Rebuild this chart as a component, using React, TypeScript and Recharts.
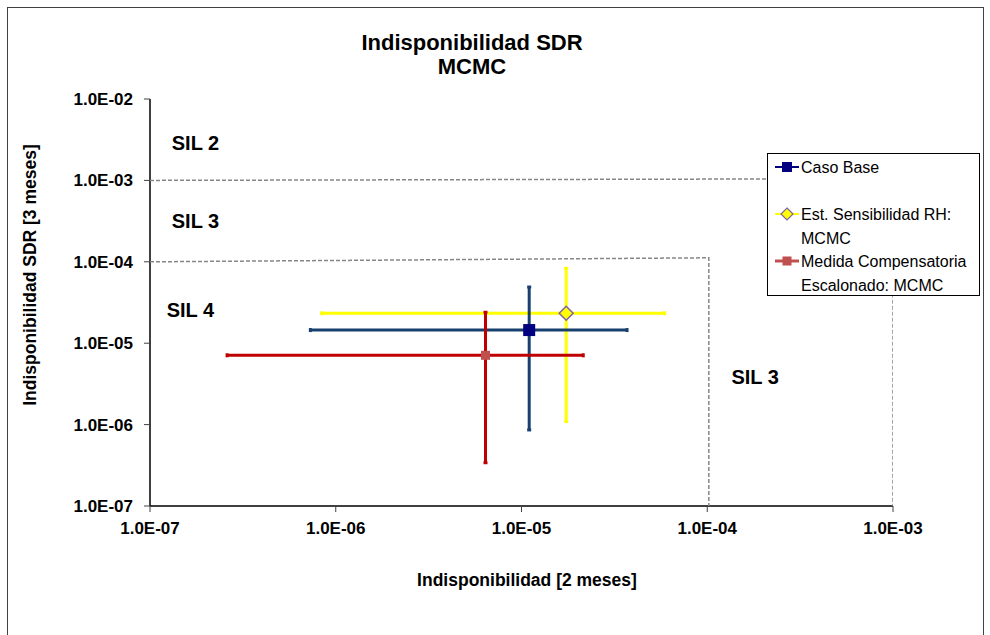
import React from 'react';
import { ScatterChart, Scatter, XAxis, YAxis, ErrorBar } from 'recharts';

// ---- data ----
const seriesNames = ['Caso Base', 'Est. Sensibilidad RH: MCMC', 'Medida Compensatoria Escalonado: MCMC'];
const centerX = [1.1e-5, 1.74e-5, 6.4e-6];
const centerY = [1.45e-5, 2.33e-5, 7.1e-6];
const xLow = [7.3e-7, 8.4e-7, 2.6e-7];
const xHigh = [3.7e-5, 5.9e-5, 2.15e-5];
const yLow = [8.6e-7, 1.09e-6, 3.4e-7];
const yHigh = [4.9e-5, 8.3e-5, 2.4e-5];

const xTicks = [1e-7, 1e-6, 1e-5, 1e-4, 1e-3];
const xTickLabels = ['1.0E-07', '1.0E-06', '1.0E-05', '1.0E-04', '1.0E-03'];
const yTicks = [1e-7, 1e-6, 1e-5, 1e-4, 1e-3, 1e-2];
const yTickLabels = ['1.0E-07', '1.0E-06', '1.0E-05', '1.0E-04', '1.0E-03', '1.0E-02'];

// SIL boundary lines
const sil23X = [1e-7, 1e-3, 1e-3];
const sil23Y = [1e-3, 1.05e-3, 1e-7];
const sil34X = [1e-7, 1.02e-4, 1.02e-4];
const sil34Y = [1e-4, 1.12e-4, 1e-7];

// SIL region labels
const silLabelText = ['SIL 2', 'SIL 3', 'SIL 4', 'SIL 3'];
const silLabelX = [1.31e-7, 1.31e-7, 1.23e-7, 1.35e-4];
const silLabelY = [2.88e-3, 3.17e-4, 2.56e-5, 3.87e-6];

const FONT = '"Liberation Sans", Arial, sans-serif';

const pointData = (i: number) => [
  {
    x: centerX[i],
    y: centerY[i],
    ex: [centerX[i] - xLow[i], xHigh[i] - centerX[i]],
    ey: [centerY[i] - yLow[i], yHigh[i] - centerY[i]],
  },
];

const lineData = (xs: number[], ys: number[]) => xs.map((x, i) => ({ x, y: ys[i] }));
const silData = silLabelText.map((t, i) => ({ x: silLabelX[i], y: silLabelY[i], t }));

const fmt = (labels: string[], ticks: number[]) => (v: number) => {
  const i = ticks.findIndex((t) => Math.abs(Math.log10(t) - Math.log10(v)) < 1e-6);
  return i >= 0 ? labels[i] : '';
};

const SquareShape = (size: number, fill: string) => (p: any) => (
  <rect x={p.cx - size / 2} y={p.cy - size / 2} width={size} height={size} fill={fill} />
);
const DiamondShape = (p: any) => {
  const r = 7;
  return (
    <polygon
      points={`${p.cx},${p.cy - r} ${p.cx + r},${p.cy} ${p.cx},${p.cy + r} ${p.cx - r},${p.cy}`}
      fill="#FFFF00"
      stroke="#8064A2"
      strokeWidth={1.5}
    />
  );
};
const NoShape = () => <g />;
const SilLabelShape = (p: any) => (
  <text
    x={p.cx}
    y={p.cy}
    dominantBaseline="central"
    fontFamily={FONT}
    fontWeight="bold"
    fontSize={20}
    fill="#000"
  >
    {p.payload.t}
  </text>
);

const LegendBox = () => {
  const items = [
    { lines: ['Caso Base'], color: '#000080', lw: 2, marker: 'sq', ms: 10, mfill: '#000080' },
    { lines: ['Est. Sensibilidad RH:', 'MCMC'], color: '#FFFF00', lw: 2, marker: 'dia', ms: 7, mfill: '#FFFF00' },
    { lines: ['Medida Compensatoria', 'Escalonado: MCMC'], color: '#C0504D', lw: 3, marker: 'sq', ms: 9, mfill: '#C0504D' },
  ];
  const rowY = [13, 60, 107];
  return (
    <div
      style={{
        width: 213,
        height: 143,
        border: '1px solid #000',
        background: '#fff',
        boxSizing: 'border-box',
      }}
    >
      <svg width={211} height={141} style={{ display: 'block' }}>
        {items.map((it, i) => {
          const cy = rowY[i];
          return (
            <g key={i}>
              <line x1={7} x2={31} y1={cy} y2={cy} stroke={it.color} strokeWidth={it.lw} />
              {it.marker === 'sq' ? (
                <rect x={19 - it.ms / 2} y={cy - it.ms / 2} width={it.ms} height={it.ms} fill={it.mfill} />
              ) : (
                <polygon
                  points={`19,${cy - 6} 25,${cy} 19,${cy + 6} 13,${cy}`}
                  fill="#FFFF00"
                  stroke="#8064A2"
                  strokeWidth={1.2}
                />
              )}
              {it.lines.map((l, j) => (
                <text
                  key={j}
                  x={33}
                  y={cy + j * 24}
                  dominantBaseline="central"
                  fontFamily={FONT}
                  fontSize={16}
                  fill="#000"
                >
                  {l}
                </text>
              ))}
            </g>
          );
        })}
      </svg>
    </div>
  );
};

const tickStyle = { fontFamily: FONT, fontWeight: 'bold' as const, fontSize: 17, fill: '#000' };

export default function App() {
  return (
    <div style={{ position: 'absolute', left: 0, top: 0, width: 990, height: 635, overflow: 'hidden', background: '#fff' }}>
      <svg width={990} height={100} style={{ position: 'absolute', left: 0, top: 0 }}>
        <text x={472} y={42} textAnchor="middle" dominantBaseline="central" fontFamily={FONT} fontWeight="bold" fontSize={22}>
          Indisponibilidad SDR
        </text>
        <text x={472} y={66} textAnchor="middle" dominantBaseline="central" fontFamily={FONT} fontWeight="bold" fontSize={22}>
          MCMC
        </text>
      </svg>
      <div style={{ position: 'absolute', left: 0, top: 0 }}>
        <ScatterChart width={990} height={635} margin={{ top: 99, right: 97, bottom: 29, left: 0 }}>
          <XAxis
            type="number"
            dataKey="x"
            scale="log"
            domain={[1e-7, 1e-3]}
            ticks={xTicks}
            allowDataOverflow
            tickFormatter={fmt(xTickLabels, xTicks)}
            tick={tickStyle}
            tickSize={6}
            tickMargin={10}
            height={100}
            axisLine={{ stroke: '#000', strokeWidth: 1.5 }}
            tickLine={{ stroke: '#404040' }}
            label={{
              content: () => (
                <text x={527} y={580} textAnchor="middle" dominantBaseline="central" fontFamily={FONT} fontWeight="bold" fontSize={17.5} fill="#000">
                  Indisponibilidad [2 meses]
                </text>
              ),
            }}
          />
          <YAxis
            type="number"
            dataKey="y"
            scale="log"
            domain={[1e-7, 1e-2]}
            ticks={yTicks}
            allowDataOverflow
            tickFormatter={fmt(yTickLabels, yTicks)}
            tick={tickStyle}
            tickSize={6}
            tickMargin={11}
            width={150}
            axisLine={{ stroke: '#000', strokeWidth: 1.5 }}
            tickLine={{ stroke: '#404040' }}
            label={{
              content: () => (
                <text
                  transform="translate(30,275) rotate(-90)"
                  textAnchor="middle"
                  dominantBaseline="central"
                  fontFamily={FONT}
                  fontWeight="bold"
                  fontSize={17.5}
                  fill="#000"
                >
                  Indisponibilidad SDR [3 meses]
                </text>
              ),
            }}
          />
          <Scatter
            name="sil23"
            data={lineData(sil23X, sil23Y)}
            line={{ stroke: '#868686', strokeWidth: 1.5, strokeDasharray: '4 2' }}
            lineType="joint"
            shape={NoShape}
            legendType="none"
            isAnimationActive={false}
          />
          <Scatter
            name="sil34"
            data={lineData(sil34X, sil34Y)}
            line={{ stroke: '#868686', strokeWidth: 1.5, strokeDasharray: '4 2' }}
            lineType="joint"
            shape={NoShape}
            legendType="none"
            isAnimationActive={false}
          />
          <Scatter name="labels" data={silData} shape={SilLabelShape} legendType="none" isAnimationActive={false} />
          <Scatter name={seriesNames[1]} data={pointData(1)} shape={DiamondShape} isAnimationActive={false}>
            <ErrorBar dataKey="ex" direction="x" stroke="#FFFF00" strokeWidth={3} width={2} />
            <ErrorBar dataKey="ey" direction="y" stroke="#FFFF00" strokeWidth={3} width={2} />
          </Scatter>
          <Scatter name={seriesNames[0]} data={pointData(0)} shape={SquareShape(12, '#000080')} isAnimationActive={false}>
            <ErrorBar dataKey="ex" direction="x" stroke="#17406F" strokeWidth={3} width={2} />
            <ErrorBar dataKey="ey" direction="y" stroke="#17406F" strokeWidth={3} width={2} />
          </Scatter>
          <Scatter name={seriesNames[2]} data={pointData(2)} shape={SquareShape(9, '#C0504D')} isAnimationActive={false}>
            <ErrorBar dataKey="ex" direction="x" stroke="#C00000" strokeWidth={3} width={2} />
            <ErrorBar dataKey="ey" direction="y" stroke="#C00000" strokeWidth={3} width={2} />
          </Scatter>
        </ScatterChart>
      </div>
      <div style={{ position: 'absolute', left: 767, top: 153 }}>
        <LegendBox />
      </div>
      <div
        style={{
          position: 'absolute',
          left: 7,
          top: 7,
          width: 977,
          height: 650,
          border: '1px solid #404040',
          boxSizing: 'border-box',
          pointerEvents: 'none',
        }}
      />
    </div>
  );
}
